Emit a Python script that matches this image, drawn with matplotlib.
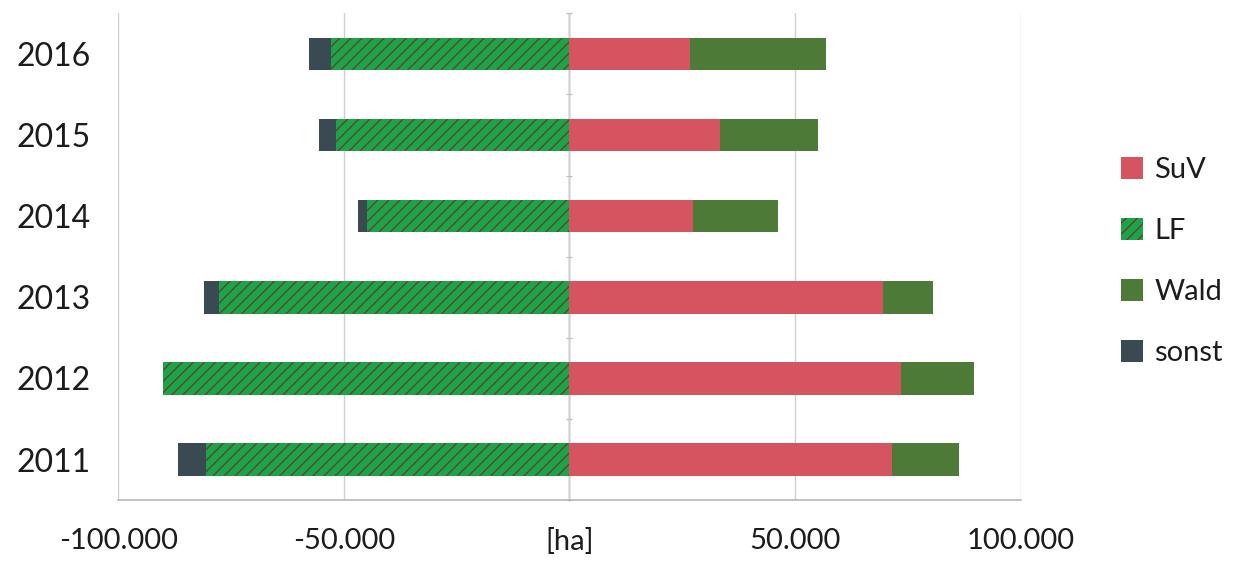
import matplotlib.pyplot as plt
import numpy as np

plt.rcParams['font.family'] = ['Lato', 'DejaVu Sans']

years = ['2011', '2012', '2013', '2014', '2015', '2016']
suv = [71400, 73400, 69400, 27300, 33300, 26800]
wald = [14900, 16200, 11100, 19000, 21700, 30000]
lf = [80700, 90200, 77800, 45000, 51700, 52800]
sonst = [6200, 0, 3300, 1800, 3800, 4900]

c_suv = '#d6545f'
c_lf = '#1da34c'
c_wald = '#4d7a36'
c_sonst = '#3a4a52'
txt = '#1c1c1c'

fig = plt.figure(figsize=(12.34, 5.73), dpi=100)
ax = fig.add_axes([0.096, 0.127, 0.731, 0.85])

y = np.arange(len(years))
h = 0.4
suv_a = np.array(suv)
lf_a = np.array(lf)

ax.barh(y, suv, height=h, color=c_suv, label='SuV', zorder=3)
ax.barh(y, lf_a * -1, height=h, color=c_lf, edgecolor='#5a4a22', hatch='///',
        linewidth=0, label='LF', zorder=3)
ax.barh(y, wald, left=suv_a, height=h, color=c_wald, label='Wald', zorder=3)
ax.barh(y, np.array(sonst) * -1, left=lf_a * -1, height=h, color=c_sonst,
        label='sonst', zorder=3)

ax.set_xlim(-100000, 100000)
ax.set_ylim(-0.5, 5.5)
ax.set_yticks(y)
ax.set_yticklabels(years, fontsize=23, color=txt)
ax.tick_params(axis='y', length=0, pad=20)

ax.set_xticks([-100000, -50000, 0, 50000, 100000])
ax.set_xticklabels(['-100.000', '-50.000', '[ha]', '50.000', '100.000'],
                   fontsize=21, color=txt)
ax.tick_params(axis='x', length=0, pad=20)
ax.xaxis.grid(True, color='#d0d0d0', linewidth=1, zorder=0)

for s in ['top', 'right', 'left']:
    ax.spines[s].set_visible(False)
ax.spines['bottom'].set_color('#b8b8b8')
ax.spines['bottom'].set_linewidth(1.2)

# zero line with category tick marks
ax.axvline(0, color='#c8c8c8', linewidth=1, zorder=1)
sec = ax.secondary_yaxis(0.5)
sec.set_yticks(np.arange(-0.5, 6, 1.0))
sec.set_yticklabels([])
sec.tick_params(axis='y', length=4, direction='inout', color='#b8b8b8')
sec.spines['left'].set_visible(False)

leg = ax.legend(loc='center left', bbox_to_anchor=(1.082, 0.49), frameon=False,
                fontsize=21, handlelength=0.75, handleheight=0.75,
                labelspacing=1.2, handletextpad=0.4)
for t in leg.get_texts():
    t.set_color(txt)

fig.savefig('out.png', dpi=100)
